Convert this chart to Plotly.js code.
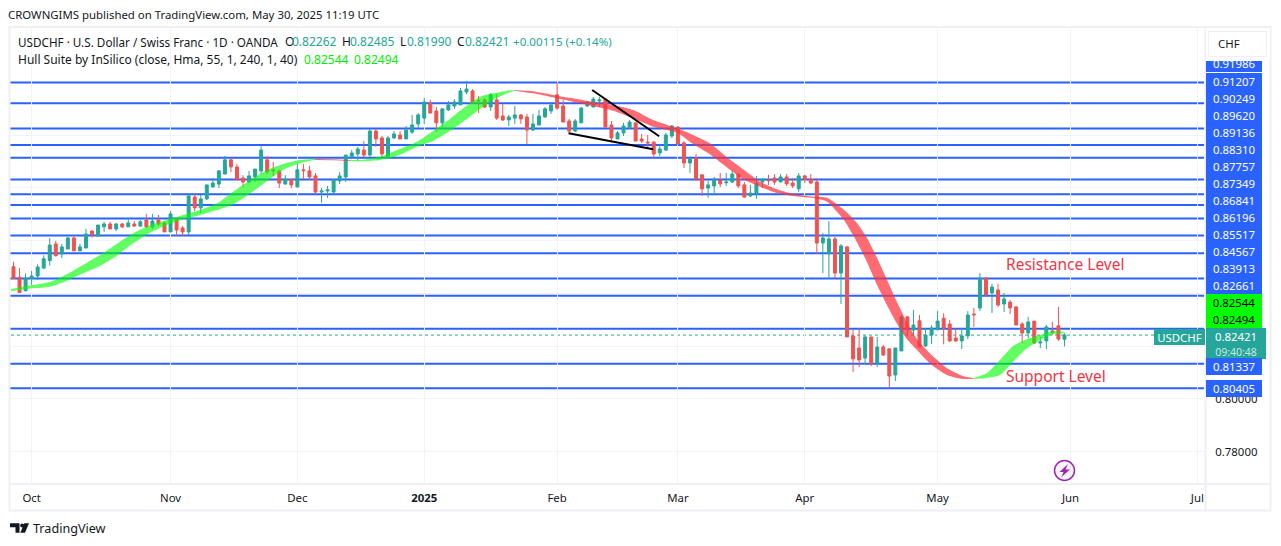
<!DOCTYPE html>
<html>
<head>
<meta charset="utf-8">
<script src="https://cdn.plot.ly/plotly-3.0.1.min.js"></script>
<style>html,body{margin:0;padding:0;background:#fff}#chart{width:1281px;height:546px}</style>
</head>
<body>
<div id="chart"></div>
<script>
// ---------- data ----------
const opens = [.8501,.8461,.8410,.8457,.8466,.8496,.8524,.8587,.8549,.8568,.8610,.8561,.8572,.8636,.8617,.8652,.8663,.8644,.8663,.8652,
.8663,.8655,.8678,.8652,.8678,.8667,.8633,.8678,.8648,.8633,.8765,.8724,.8758,.8803,.8814,.8852,.8906,.8879,.8837,.8822,
.8841,.8864,.8906,.8868,.8864,.8814,.8832,.8803,.8868,.8864,.8845,.8784,.8788,.8784,.8826,.8841,.8917,.8928,.8943,.8924,
.9015,.8989,.8917,.8989,.9000,.8985,.9011,.9042,.9064,.9121,.9091,.9046,.9095,.9110,.9114,.9163,.9167,.9131,.9133,.9106,
.9133,.9072,.9057,.9064,.9076,.9068,.9019,.9038,.9068,.9091,.9152,.9110,.9053,.9015,.9046,.9110,.9106,.9129,.9136,.9038,
.8985,.9008,.9027,.9046,.8985,.8973,.8973,.8932,.8943,.8996,.9030,.8970,.8894,.8913,.8849,.8799,.8807,.8830,.8819,.8822,
.8852,.8811,.8769,.8777,.8822,.8830,.8837,.8822,.8841,.8818,.8796,.8845,.8833,.8822,.8591,.8549,.8606,.8477,.8576,.8239,
.8193,.8155,.8235,.8136,.8197,.8190,.8091,.8182,.8311,.8261,.8296,.8201,.8242,.8262,.8306,.8284,.8231,.8220,.8239,.8322,
.8345,.8458,.8402,.8413,.8360,.8367,.8349,.8284,.8250,.8295,.8212,.8220,.8258,.8277,.82262];
const highs = [.8520,.8496,.8476,.8485,.8510,.8544,.8610,.8599,.8587,.8614,.8619,.8587,.8644,.8640,.8659,.8671,.8671,.8667,.8667,.8687,
.8674,.8678,.8701,.8701,.8697,.8671,.8712,.8682,.8655,.8777,.8777,.8773,.8811,.8837,.8868,.8921,.8909,.8890,.8848,.8864,
.8871,.8958,.8921,.8898,.8868,.8848,.8833,.8890,.8890,.8883,.8856,.8799,.8807,.8833,.8860,.8924,.8943,.8955,.8977,.9023,
.9023,.8996,.8996,.9015,.9015,.9034,.9076,.9083,.9140,.9133,.9106,.9099,.9129,.9136,.9178,.9205,.9174,.9148,.9140,.9159,
.9155,.9118,.9076,.9110,.9080,.9080,.9080,.9095,.9106,.9125,.9197,.9133,.9061,.9061,.9106,.9129,.9144,.9144,.9140,.9053,
.9015,.9046,.9057,.9046,.9004,.9000,.8977,.8966,.9008,.9038,.9034,.8977,.8913,.8928,.8849,.8826,.8841,.8856,.8856,.8867,
.8856,.8822,.8811,.8845,.8837,.8849,.8852,.8852,.8852,.8837,.8856,.8849,.8852,.8837,.8629,.8674,.8614,.8587,.8580,.8261,
.8269,.8242,.8235,.8235,.8205,.8190,.8193,.8318,.8314,.8337,.8318,.8269,.8280,.8333,.8325,.8299,.8269,.8269,.8333,.8345,
.8477,.8462,.8436,.8436,.8402,.8375,.8349,.8292,.8311,.8295,.8235,.8280,.8292,.8349,.82485];
const lows = [.8457,.8403,.8407,.8432,.8451,.8492,.8505,.8539,.8534,.8568,.8561,.8561,.8572,.8611,.8617,.8633,.8644,.8636,.8648,.8652,
.8652,.8652,.8648,.8644,.8655,.8633,.8633,.8617,.8617,.8621,.8712,.8705,.8754,.8803,.8799,.8852,.8860,.8830,.8803,.8818,
.8822,.8852,.8852,.8845,.8799,.8814,.8799,.8803,.8833,.8830,.8779,.8743,.8761,.8777,.8814,.8822,.8908,.8903,.8917,.8918,
.8955,.8917,.8917,.8985,.8985,.8985,.9004,.9027,.9042,.9083,.9011,.9023,.9091,.9099,.9114,.9155,.9120,.9083,.9102,.9091,
.9057,.9053,.9034,.9042,.9042,.8966,.9015,.9038,.9068,.9080,.9095,.9049,.9004,.9011,.9046,.9106,.9106,.9106,.9030,.8972,
.8985,.8996,.9027,.8977,.8970,.8951,.8913,.8920,.8939,.8989,.8962,.8875,.8856,.8826,.8769,.8762,.8777,.8803,.8807,.8818,
.8799,.8762,.8765,.8758,.8799,.8811,.8811,.8822,.8807,.8799,.8784,.8818,.8815,.8549,.8477,.8455,.8458,.8360,.8235,.8102,
.8121,.8133,.8125,.8121,.8163,.8042,.8068,.8182,.8239,.8242,.8197,.8197,.8208,.8262,.8207,.8216,.8216,.8189,.8227,.8273,
.8333,.8390,.8326,.8349,.8330,.8322,.8280,.8212,.8231,.8208,.8193,.8189,.8242,.8220,.8199];
const closes = [.8457,.8403,.8458,.8466,.8500,.8531,.8583,.8543,.8576,.8610,.8561,.8576,.8625,.8621,.8659,.8663,.8644,.8663,.8652,.8667,
.8655,.8671,.8652,.8674,.8663,.8633,.8701,.8640,.8633,.8769,.8724,.8758,.8811,.8818,.8864,.8906,.8879,.8830,.8822,.8845,
.8871,.8943,.8860,.8865,.8818,.8833,.8811,.8868,.8865,.8841,.8784,.8788,.8792,.8830,.8845,.8924,.8932,.8947,.8924,.9015,
.8985,.8928,.8989,.9004,.8985,.9019,.9038,.9076,.9125,.9083,.9046,.9099,.9114,.9125,.9167,.9174,.9121,.9129,.9106,.9152,
.9064,.9057,.9068,.9076,.9061,.9019,.9042,.9072,.9099,.9114,.9102,.9049,.9015,.9053,.9102,.9125,.9136,.9133,.9030,.8989,
.9008,.9034,.9049,.8977,.8977,.8970,.8928,.8947,.9000,.9034,.8966,.8894,.8909,.8833,.8796,.8811,.8833,.8815,.8822,.8852,
.8807,.8765,.8780,.8817,.8832,.8827,.8822,.8841,.8815,.8807,.8845,.8832,.8818,.8591,.8610,.8606,.8477,.8580,.8235,.8152,
.8148,.8235,.8133,.8197,.8167,.8087,.8193,.8311,.8265,.8280,.8197,.8242,.8269,.8295,.8268,.8220,.8220,.8239,.8318,.8319,
.8458,.8394,.8424,.8356,.8379,.8345,.8280,.8250,.8292,.8212,.8216,.8273,.8253,.8227,.82421];

const levels = [.91986,.91207,.90249,.89620,.89136,.88310,.87757,.87349,.86841,.86196,.85517,.84567,.83913,.82661,.81337,.80405];
const lastClose = 0.82421;
const hullNow = [0.82544, 0.82494];

const hullBars = [-0.4,3.2,6,8.9,11.5,14.3,17.1,19.8,22.6,25.4,28.1,30.9,33.7,36.3,39.2,42,44.6,47.4,49.9,
 52.9,55.7,
 57.9,60.7,63.5,66.8,69.5,72.3,75.1,77.2,79.4,81.7,83,
 86,89.3,92.6,95.9,99.3,102.6,105.9,109.9,112.5,115.3,118.1,120.8,123.6,126.4,129.1,132.4,134.7,137.4,139.6,141.3,142.9,144.6,146.3,147.9,149.6,151.7,154.5,157.2,158.9,
 161.2,163.3,165.5,167.8,170,172.1,174];
const hullUpper = [.84167,.84319,.84432,.84735,.85076,.85455,.85872,.86276,.86579,.86781,.86970,.87159,.87412,.87842,.88296,.88675,.88902,.89053,.89104,
 .89085,.89053,
 .89066,.89180,.89432,.89748,.90165,.90620,.91125,.91453,.91579,.91680,.91705,
 .91655,.91516,.91389,.91251,.91137,.90947,.90569,.90253,.90001,.89685,.89155,.88700,.88233,.87943,.87766,.87665,.87627,.87185,.86680,.86099,.85380,.84521,.83662,.82905,.82261,.81731,.81175,.80872,.80796,
 .80985,.81478,.82008,.82274,.82425,.82576,.82544];
const hullLower = [.84078,.84192,.84255,.84483,.84760,.85039,.85430,.85897,.86301,.86591,.86806,.86970,.87159,.87362,.87791,.88258,.88675,.88927,.89053,
 .89045,.89015,
 .89003,.89053,.89205,.89559,.89786,.90165,.90620,.90973,.91326,.91579,.91680,
 .91579,.91427,.91263,.91099,.90922,.90632,.90316,.90089,.89660,.89269,.88776,.88322,.88044,.87804,.87690,.87614,.87476,.86806,.85960,.85190,.84357,.83561,.82842,.82274,.81857,.81352,.80909,.80758,.80758,
 .80796,.80910,.81415,.81920,.82235,.82462,.82494];
// indices into hullBars where a colour run ends, with its colour direction
const hullRunEnds = [18, 20, 31, 60, 67];
const hullRunRising = [true, false, true, false, true];

const trendBars = [[95.8,106.9],[91.9,105.9]];
const trendPrices = [[.91705,.89951],[.90065,.89459]];

const monthBars = [3,26,47,68,90,110,131,153,175,196];
const monthLabels = ['Oct','Nov','Dec','<b>2025</b>','Feb','Mar','Apr','May','Jun','Jul'];
const priceTicks = [.78,.80,.82,.84,.86,.88,.90];
const priceTickLabels = ['0.78000','0.80000','','','','',''];

// ---------- chrome geometry ----------
const W=1281,H=546,L=11,R=1204,T=27,B=484;
const FONT='"Noto Sans", sans-serif', FS=11.4;
const INK='#131722', BLUE='#2962FF', UP='#26a69a', DOWN='#ef5350', GRID='#f0f3fa', FRAME='#eef0f5';
const px=x=>(x-L)/(R-L), py=y=>(B-y)/(B-T);

const bars = opens.map((_,i)=>i);
const traces=[];
let start=0;
hullRunEnds.forEach((end,k)=>{
  const col = hullRunRising[k] ? 'rgba(0,255,0,0.62)' : 'rgba(255,50,60,0.72)';
  const xs=hullBars.slice(start,end+1), up=hullUpper.slice(start,end+1), lo=hullLower.slice(start,end+1);
  traces.push({type:'scatter',mode:'lines',x:xs,y:lo,line:{width:0,color:col,shape:'spline',smoothing:0.6},hoverinfo:'skip',showlegend:false});
  traces.push({type:'scatter',mode:'lines',x:xs,y:up,line:{width:0,color:col,shape:'spline',smoothing:0.6},fill:'tonexty',fillcolor:col,hoverinfo:'skip',showlegend:false});
  start=end;
});
traces.push({type:'candlestick',x:bars,open:opens,high:highs,low:lows,close:closes,whiskerwidth:0,
  increasing:{line:{color:UP,width:1},fillcolor:UP},decreasing:{line:{color:DOWN,width:1},fillcolor:DOWN},showlegend:false});
trendBars.forEach((xs,i)=>traces.push({type:'scatter',mode:'lines',x:xs,y:trendPrices[i],line:{color:'#000000',width:2},hoverinfo:'skip',showlegend:false}));

const shapes=[];
levels.forEach(v=>shapes.push({type:'line',xref:'paper',yref:'y',x0:-0.0008,x1:1,y0:v,y1:v,line:{color:BLUE,width:2},layer:'below'}));
shapes.push({type:'line',xref:'paper',yref:'y',x0:0,x1:1,y0:lastClose,y1:lastClose,line:{color:UP,width:1,dash:'dot'},layer:'below'});
// frame
shapes.push({type:'rect',xref:'paper',yref:'paper',x0:px(9.5),x1:px(1270.5),y0:py(510.5),y1:py(27),line:{color:FRAME,width:2},layer:'below'});
shapes.push({type:'line',xref:'paper',yref:'paper',x0:px(9.5),x1:px(1270.5),y0:py(484),y1:py(484),line:{color:FRAME,width:2},layer:'below'});
shapes.push({type:'line',xref:'paper',yref:'paper',x0:px(1205.5),x1:px(1205.5),y0:py(510.5),y1:py(27),line:{color:FRAME,width:2},layer:'below'});
// lightning badge
shapes.push({type:'circle',xref:'paper',yref:'paper',x0:px(1054.5),x1:px(1074.5),y0:py(480.5),y1:py(460.5),line:{color:'#9c27b0',width:1.5},fillcolor:'rgba(156,39,176,0.06)'});
const poly=(pts,fill)=>({type:'path',xref:'paper',yref:'paper',fillcolor:fill,line:{width:0},
  path:'M'+pts.map(p=>px(p[0])+','+py(p[1])).join('L')+'Z'});
shapes.push(poly([[1068,464],[1059.5,472],[1063.5,472],[1061.5,477],[1070,469.5],[1065.5,469.5]],'#9c27b0'));
// TradingView logo
shapes.push(poly([[10,523.3],[19.5,523.3],[19.5,532.7],[15.5,532.7],[15.5,527.3],[10,527.3]],'#131722'));
shapes.push(poly([[24.3,523.3],[29,523.3],[25,532.7],[20.3,532.7]],'#131722'));
shapes.push({type:'circle',xref:'paper',yref:'paper',x0:px(20.2),x1:px(24.2),y0:py(527.4),y1:py(523.4),fillcolor:'#131722',line:{width:0}});

const ann=[];
const txt=(text,x,y,color,size,weight)=>ann.push({xref:'paper',yref:'paper',x:px(x),y:py(y),xanchor:'left',yanchor:'middle',showarrow:false,
  text:text,font:{family:FONT,size:size||FS,color:color||INK,weight:weight||400},borderpad:0,borderwidth:0,align:'left'});
const tag=(text,left,top,w,h,bg,color,size)=>ann.push({xref:'paper',yref:'paper',x:px(left),y:py(top),xanchor:'left',yanchor:'top',showarrow:false,
  width:w,height:h,bgcolor:bg,text:text,font:{family:FONT,size:size||FS,color:color||'#ffffff'},borderpad:0,borderwidth:0,align:'center',valign:'middle'});

const TL=1206,TW=56,TH=17,LEG=12;
levels.slice(0,14).forEach((v,i)=>tag(v.toFixed(5),TL,55.5+TH*i,TW,TH,BLUE));
tag(hullNow[0].toFixed(5),TL,293.5,TW,TH,'#00ff00','#000000');
tag(hullNow[1].toFixed(5),TL,310.5,TW,TH,'#00ff00','#000000');
tag(lastClose.toFixed(5),TL,327.5,60,16,UP);
tag('09:40:48',TL,343.5,60,15,UP,'rgba(255,255,255,0.75)',10.5);
tag(levels[14].toFixed(5),TL,358,TW,TH,BLUE);
tag(levels[15].toFixed(5),TL,380,TW,TH,BLUE);
tag('USDCHF',1154,328.5,51,16,UP);
// currency box on top of the clipped first tag
tag('\u00A0',TL,28,64,32.7,'#ffffff');
ann.push({xref:'paper',yref:'paper',x:px(1208),y:py(31),xanchor:'left',yanchor:'top',showarrow:false,width:57,height:24,text:'\u00A0',
  bgcolor:'#ffffff',bordercolor:'#eef0f5',borderwidth:1,borderpad:0});
txt('CHF',1218,43.5);

txt('CROWNGIMS published on TradingView.com, May 30, 2025 11:19 UTC',8,14.5);
txt('USDCHF · U.S. Dollar / Swiss Franc · 1D · OANDA',18,42,INK,11.7);
txt('O',285,42,INK,LEG); txt('0.82262',292,42,UP,LEG);
txt('H',342,42,INK,LEG); txt('0.82485',350,42,UP,LEG);
txt('L',400,42,INK,LEG); txt('0.81990',407,42,UP,LEG);
txt('C',457,42,INK,LEG); txt('0.82421',465,42,UP,LEG);
txt('+0.00115 (+0.14%)',513,42,UP,11.6);
txt('Hull Suite by InSilico (close, Hma, 55, 1, 240, 1, 40)',18,59,INK,LEG);
txt(hullNow[0].toFixed(5),304,59,'#00f000',LEG);
txt(hullNow[1].toFixed(5),354,59,'#00f000',LEG);
txt('Resistance Level',1006,264,'#f23645',15.5);
txt('Support Level',1006,376,'#f23645',15.5);
txt('TradingView',33,528.5,INK,12.6);

const layout={
  width:W,height:H,autosize:false,paper_bgcolor:'#ffffff',plot_bgcolor:'#ffffff',showlegend:false,hovermode:false,
  margin:{l:L,r:W-R,t:T,b:H-B,pad:0},boxgap:0.3,
  font:{family:FONT,size:FS,color:INK},
  xaxis:{type:'linear',range:[-0.414,197.1],tickmode:'array',tickvals:monthBars,ticktext:monthLabels,showgrid:true,gridcolor:GRID,gridwidth:1,
    zeroline:false,showline:false,ticks:'outside',ticklen:3,tickcolor:'rgba(0,0,0,0)',tickfont:{family:FONT,size:FS,color:INK},rangeslider:{visible:false},fixedrange:true},
  yaxis:{side:'right',type:'linear',range:[0.76780,0.94091],tickmode:'array',tickvals:priceTicks,ticktext:priceTickLabels,showgrid:true,gridcolor:GRID,gridwidth:1,
    zeroline:false,showline:false,ticks:'outside',ticklen:8,tickcolor:'rgba(0,0,0,0)',tickfont:{family:FONT,size:FS,color:INK},fixedrange:true},
  shapes:shapes,annotations:ann
};
Plotly.newPlot('chart',traces,layout,{displayModeBar:false,staticPlot:true});
</script>
</body>
</html>
